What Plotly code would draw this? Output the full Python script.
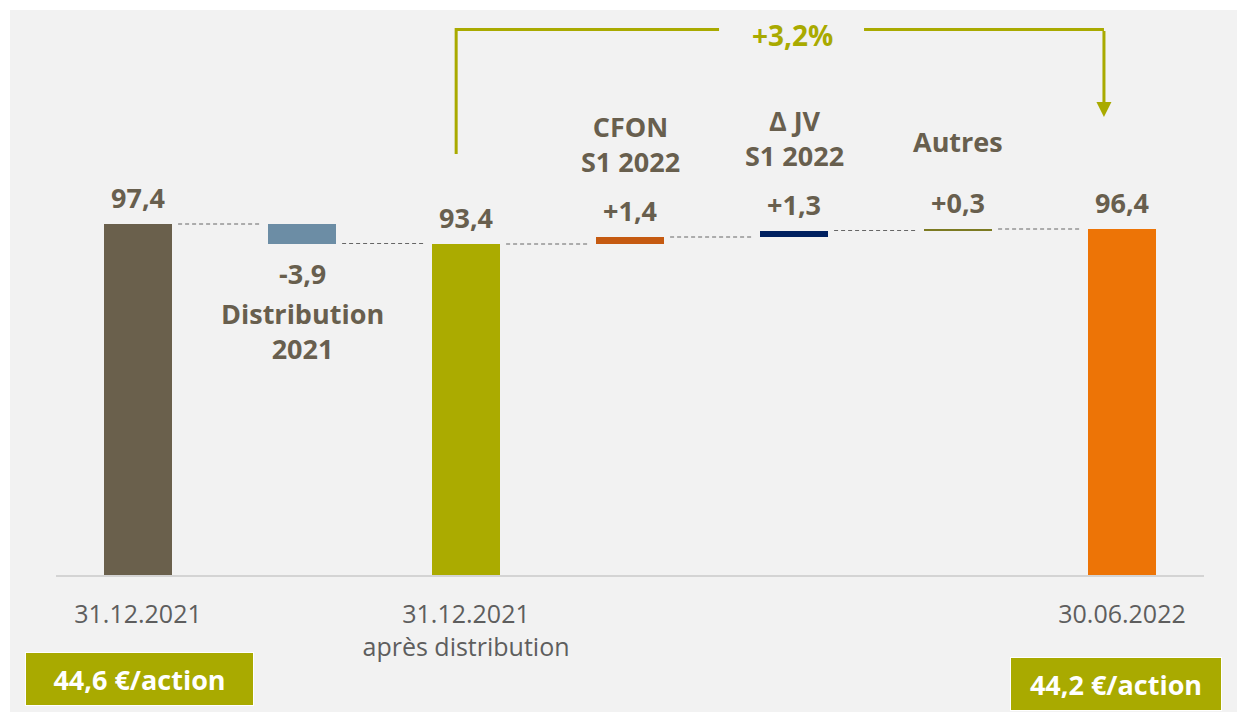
import plotly.graph_objects as go

# ---------------- data ----------------
categories = ["31.12.2021", "Distribution 2021", "31.12.2021 après distribution",
              "CFON S1 2022", "Δ JV S1 2022", "Autres", "30.06.2022"]
measures = ["total", "relative", "total", "relative", "relative", "relative", "total"]
values = [97.4, -3.9, 93.4, 1.4, 1.3, 0.3, 96.4]
value_labels = ["97,4", "-3,9", "93,4", "+1,4", "+1,3", "+0,3", "96,4"]
bar_colors = ["#6A604C", "#6C8DA5", "#ABAB00", "#C55A11", "#002060", "#7C7A22", "#ED7406"]
tick_positions = [0, 2, 6]
tick_labels = ["31.12.2021", "31.12.2021<br>après distribution", "30.06.2022"]
desc_labels = {1: "Distribution<br>2021", 3: "CFON<br>S1 2022", 4: "Δ JV<br>S1 2022", 5: "Autres"}
growth_label = "+3,2%"
per_share = ["44,6 €/action", "44,2 €/action"]

# ---------------- layout constants ----------------
W, H = 1237, 712
M_L, M_R, M_T, M_B = 56, 33, 10, 137
PLOT_H = H - M_T - M_B
PW = W - M_L - M_R
Y_MIN = 27.2
PX_PER_UNIT = 5.0
Y_MAX = Y_MIN + PLOT_H / PX_PER_UNIT
BAR_W = 0.415
TEXT_C = "#685F4E"
OLIVE = "#A9AA00"
FONT = "Open Sans"

def paper_y(px):
    return (H - M_B - px) / PLOT_H

def paper_x(px):
    return (px - M_L) / PW

# compute waterfall bases / levels
bases, heights, levels = [], [], []
level = 0.0
for m, v in zip(measures, values):
    if m == "total":
        bases.append(0.0)
        heights.append(v)
        level = v
    else:
        bases.append(level)
        heights.append(v)
        level = level + v
    levels.append(level)

x = list(range(len(categories)))

fig = go.Figure()
fig.add_trace(go.Bar(
    x=x, y=heights, base=bases, width=BAR_W,
    marker=dict(color=bar_colors, line=dict(width=0)),
    hovertext=categories, showlegend=False,
))

shapes = []
# connectors
gap = 0.037
for i in range(len(x) - 1):
    shapes.append(dict(type="line", xref="x", yref="y",
                       x0=i + BAR_W / 2 + gap, x1=i + 1 - BAR_W / 2 - gap,
                       y0=levels[i], y1=levels[i],
                       line=dict(color="#666666", width=1, dash="4px,3px")))

# white strips framing the gray panel
shapes.append(dict(type="rect", xref="paper", yref="paper",
                   x0=paper_x(-5), x1=paper_x(10),
                   y0=paper_y(H + 5), y1=paper_y(-5),
                   fillcolor="white", line=dict(width=0), layer="below"))
shapes.append(dict(type="rect", xref="paper", yref="paper",
                   x0=paper_x(-5), x1=paper_x(W + 5), y0=paper_y(10), y1=paper_y(-5),
                   fillcolor="white", line=dict(width=0), layer="below"))

# growth bracket
x_left = 2 - 0.06
x_right = 6 - 0.11
x_gap0 = 3.543
x_gap1 = 4.427
y_top = paper_y(29.5)
shapes.append(dict(type="path", xref="x", yref="paper",
                   path=f"M {x_left},{paper_y(154)} L {x_left},{y_top} L {x_gap0},{y_top}",
                   line=dict(color=OLIVE, width=3)))
shapes.append(dict(type="path", xref="x", yref="paper",
                   path=f"M {x_gap1},{y_top} L {x_right},{y_top}",
                   line=dict(color=OLIVE, width=3)))

annotations = []
# arrow down
annotations.append(dict(x=x_right, y=paper_y(117), xref="x", yref="paper",
                        ax=0, ay=-(117 - 29.5), axref="pixel", ayref="pixel",
                        text="", showarrow=True, arrowhead=2, arrowsize=1,
                        arrowwidth=3, arrowcolor=OLIVE))
annotations.append(dict(x=3.988, y=paper_y(35), xref="x", yref="paper",
                        xanchor="center", yanchor="middle",
                        text=growth_label, showarrow=False,
                        font=dict(family=FONT, size=28, color=OLIVE, weight=700)))

# value labels and descriptions
for i in x:
    top = max(bases[i], bases[i] + heights[i])
    bottom = min(bases[i], bases[i] + heights[i])
    if heights[i] >= 0:
        annotations.append(dict(x=i, y=top, xref="x", yref="y", text=value_labels[i],
                                showarrow=False, xanchor="center", yanchor="bottom", yshift=6,
                                font=dict(family=FONT, size=27, color=TEXT_C, weight=700)))
    else:
        annotations.append(dict(x=i, y=bottom, xref="x", yref="y", text=value_labels[i],
                                showarrow=False, xanchor="center", yanchor="top", yshift=-9,
                                font=dict(family=FONT, size=27, color=TEXT_C, weight=700)))

desc_shift = {1: -49, 3: 55, 4: 55, 5: 67}
for i, txt in desc_labels.items():
    top = max(bases[i], bases[i] + heights[i])
    bottom = min(bases[i], bases[i] + heights[i])
    if heights[i] >= 0:
        annotations.append(dict(x=i, y=top, xref="x", yref="y", text=txt,
                                showarrow=False, xanchor="center", yanchor="bottom",
                                yshift=desc_shift[i],
                                font=dict(family=FONT, size=27, color=TEXT_C, weight=700)))
    else:
        annotations.append(dict(x=i, y=bottom, xref="x", yref="y", text=txt,
                                showarrow=False, xanchor="center", yanchor="top",
                                yshift=desc_shift[i],
                                font=dict(family=FONT, size=27, color=TEXT_C, weight=700)))

# per-share boxes
annotations.append(dict(x=paper_x(139.5), y=paper_y(678.5), xref="paper", yref="paper",
                        xanchor="center", yanchor="middle",
                        text=per_share[0], showarrow=False, width=225, height=50,
                        bgcolor=OLIVE, bordercolor="#FFFFFF", borderwidth=1, borderpad=1,
                        font=dict(family=FONT, size=27, color="white", weight=700)))
annotations.append(dict(x=paper_x(1116), y=paper_y(683.5), xref="paper", yref="paper",
                        xanchor="center", yanchor="middle",
                        text=per_share[1], showarrow=False, width=208, height=50,
                        bgcolor=OLIVE, bordercolor="#FFFFFF", borderwidth=1, borderpad=1,
                        font=dict(family=FONT, size=27, color="white", weight=700)))

fig.update_layout(
    width=W, height=H,
    margin=dict(l=M_L, r=M_R, t=M_T, b=M_B),
    paper_bgcolor="#F2F2F2", plot_bgcolor="#F2F2F2",
    shapes=shapes, annotations=annotations,
    bargap=0,
    xaxis=dict(range=[-0.5, 6.5], tickmode="array", tickvals=tick_positions,
               ticktext=tick_labels, showgrid=False, zeroline=False,
               showline=True, linecolor="#D4D4D4", linewidth=2, ticks="",
               ticklabelstandoff=16,
               tickfont=dict(family=FONT, size=25, color="#5E5E5E")),
    yaxis=dict(range=[Y_MIN, Y_MAX], visible=False, showgrid=False, zeroline=False),
)

fig.write_html("out.html")
